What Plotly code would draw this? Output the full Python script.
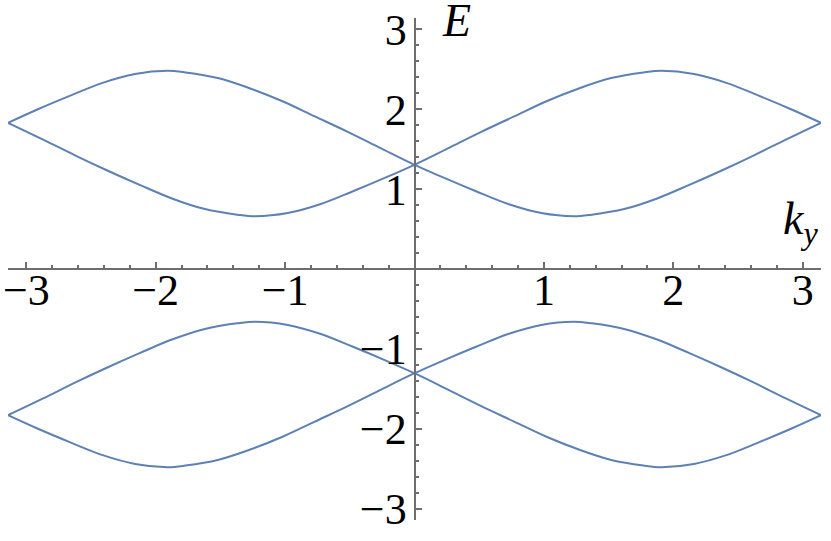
import plotly.graph_objects as go

# k_y sample points
k_a = [-3.1416, -2.87, -2.62, -2.37, -2.12, -1.87, -1.62, -1.37, -1.23, -0.98,
       -0.73, -0.48, -0.23, 0.02, 0.27, 0.52, 0.77, 1.02, 1.27, 1.52,
       1.77, 1.91, 2.16, 2.41, 2.66, 2.91, 3.1416]
k_b = [-3.1416, -2.91, -2.66, -2.41, -2.16, -1.91, -1.77, -1.52, -1.27, -1.02,
       -0.77, -0.52, -0.27, -0.02, 0.23, 0.48, 0.73, 0.98, 1.23, 1.37,
       1.62, 1.87, 2.12, 2.37, 2.62, 2.87, 3.1416]

# upper pair of bands
band_up_a = [1.83, 1.62, 1.42, 1.23, 1.05, 0.88, 0.75, 0.68, 0.66, 0.70,
             0.81, 0.97, 1.14, 1.32, 1.52, 1.72, 1.91, 2.10, 2.26, 2.39,
             2.46, 2.48, 2.44, 2.33, 2.17, 2.00, 1.83]
band_up_b = [1.83, 2.00, 2.17, 2.33, 2.44, 2.48, 2.46, 2.39, 2.26, 2.10,
             1.91, 1.72, 1.52, 1.32, 1.14, 0.97, 0.81, 0.70, 0.66, 0.68,
             0.75, 0.88, 1.05, 1.23, 1.42, 1.62, 1.83]

# lower pair of bands
band_lo_a = [-1.83, -1.62, -1.42, -1.23, -1.05, -0.88, -0.75, -0.68, -0.66, -0.70,
             -0.81, -0.97, -1.14, -1.32, -1.52, -1.72, -1.91, -2.10, -2.26, -2.39,
             -2.46, -2.48, -2.44, -2.33, -2.17, -2.00, -1.83]
band_lo_b = [-1.83, -2.00, -2.17, -2.33, -2.44, -2.48, -2.46, -2.39, -2.26, -2.10,
             -1.91, -1.72, -1.52, -1.32, -1.14, -0.97, -0.81, -0.70, -0.66, -0.68,
             -0.75, -0.88, -1.05, -1.23, -1.42, -1.62, -1.83]

tick_vals = [-3, -2, -1, 1, 2, 3]
tick_text = ["\u22123", "\u22122", "\u22121", "1", "2", "3"]

LINE_COLOR = "#5e81b5"
AXIS_COLOR = "#6e6e6e"
FONT = "Liberation Serif, Times New Roman, Times, DejaVu Serif, serif"

fig = go.Figure()
for kk, band in [(k_a, band_up_a), (k_b, band_up_b), (k_a, band_lo_a), (k_b, band_lo_b)]:
    fig.add_trace(go.Scatter(
        x=kk, y=band, mode="lines",
        line=dict(color=LINE_COLOR, width=2, shape="spline", smoothing=1),
        hoverinfo="skip",
    ))

axis_common = dict(
    showgrid=False, zeroline=False, showline=True,
    linecolor=AXIS_COLOR, linewidth=2,
    ticks="inside", ticklen=6, tickwidth=1.5, tickcolor=AXIS_COLOR,
    tickmode="array", tickvals=tick_vals, ticktext=tick_text,
    tickfont=dict(family=FONT, size=44, color="black"),
    minor=dict(ticks="inside", ticklen=3, tickwidth=1.5, tickcolor=AXIS_COLOR,
               tickmode="linear", tick0=0, dtick=0.2),
    anchor="free", position=0.5, automargin=False,
)

fig.update_layout(
    width=831, height=541,
    margin=dict(l=8, r=10, t=18, b=21),
    paper_bgcolor="white", plot_bgcolor="white",
    showlegend=False,
    xaxis=dict(range=[-3.1416, 3.1416], ticklabelstandoff=-18, **axis_common),
    yaxis=dict(range=[-3.1416, 3.1416], ticklabelstandoff=-2, **axis_common),
    annotations=[
        dict(text="<i>E</i>", x=0.552, y=1.05, xref="paper", yref="paper",
             showarrow=False, font=dict(family=FONT, size=46, color="black")),
        dict(text="<i>k</i><sub><i>y</i></sub>", x=0.999, y=0.59, xref="paper", yref="y",
             showarrow=False, font=dict(family=FONT, size=46, color="black")),
    ],
)

# page body has a default 8px margin; drop it so the figure sits at the corner
fig.write_html("out.html", config={"displayModeBar": False},
               post_script="document.body.style.margin='0px';")
